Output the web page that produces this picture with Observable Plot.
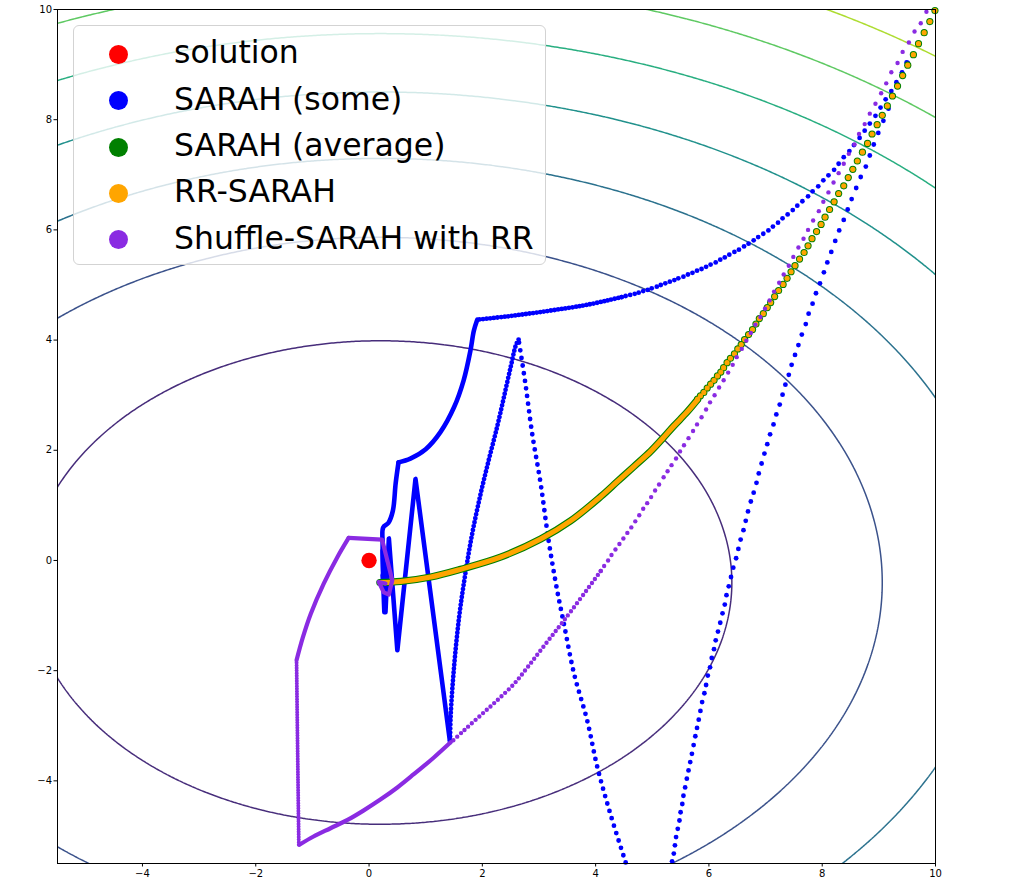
<!DOCTYPE html>
<html><head><meta charset="utf-8">
<script src="https://cdn.jsdelivr.net/npm/d3@7"></script>
<script src="https://cdn.jsdelivr.net/npm/@observablehq/plot@0.6"></script>
<style>
html,body{margin:0;padding:0;background:#fff;}
#wrap{position:relative;width:1024px;height:888px;}
#legend{position:absolute;left:73px;top:25px;width:473px;height:240px;border:1px solid #d3d3d3;border-radius:6px;background:rgba(255,255,255,0.8);font-family:"DejaVu Sans";font-size:31.5px;box-sizing:border-box;color:#000;}
.sw{position:absolute;left:35px;width:19px;height:19px;border-radius:50%;}
.lab{position:absolute;left:100px;white-space:nowrap;line-height:1;}
</style></head>
<body>
<div id="wrap"></div>
<script>
// ---------- data ----------
const xDomain = [-5.5, 10];
const yDomain = [-5.5, 10];
const xTicks = [-4, -2, 0, 2, 4, 6, 8, 10];
const yTicks = [-4, -2, 0, 2, 4, 6, 8, 10];

// objective bowl f(x,y) = wx*(x-cx)^2 + wy*(y-cy)^2 + c
const bowlCenter = [0.2, -0.4];
const bowlWeights = [1, 2];
const bowlOffset = 1.5;
const levels = [40, 80, 120, 160, 200, 240, 280];
const levelColorDomain = [0, 320];
const sampleExtent = [-10, 15];

const solution = [[0, 0]];

const legendNames = ["solution", "SARAH (some)", "SARAH (average)", "RR-SARAH", "Shuffle-SARAH with RR"];
const legendColors = ["red", "blue", "green", "orange", "blueviolet"];

// RR-SARAH / SARAH (average): separated iterates (upper part)
const rrDots = [[9.99,9.98],[9.90,9.78],[9.80,9.58],[9.70,9.38],[9.61,9.18],[9.51,8.99],[9.42,8.80],[9.33,8.61],[9.24,8.43],[9.15,8.25],[9.06,8.08],[8.97,7.91],[8.88,7.74],[8.80,7.57],[8.71,7.41],[8.62,7.25],[8.54,7.10],[8.46,6.95],[8.38,6.80],[8.29,6.66],[8.21,6.51],[8.13,6.37],[8.05,6.23],[7.98,6.10],[7.90,5.97],[7.82,5.84],[7.75,5.71],[7.68,5.59],[7.60,5.47],[7.52,5.35],[7.45,5.24],[7.38,5.12],[7.31,5.01],[7.23,4.90],[7.16,4.79],[7.09,4.68],[7.03,4.59],[6.96,4.48],[6.89,4.39],[6.83,4.29],[6.77,4.19],[6.70,4.10],[6.63,4.01],[6.57,3.92],[6.51,3.84],[6.45,3.75],[6.38,3.67],[6.32,3.59],[6.26,3.50],[6.21,3.42],[6.15,3.35],[6.09,3.27],[6.03,3.20],[5.97,3.13],[5.91,3.05],[5.85,2.99],[5.80,2.93]];
// dense (overlapping) iterates near the solution
const rrDense = [[5.80,2.92],[5.62,2.70],[5.38,2.44],[5.18,2.21],[4.97,1.98],[4.67,1.70],[4.38,1.43],[4.09,1.16],[3.56,0.72],[3.03,0.39],[2.32,0.06],[1.62,-0.16],[1.09,-0.30],[0.56,-0.38],[0.19,-0.40]];

// SARAH (some): run bending left to the kink
const sarahLeftDots = [[9.51,9.03],[9.41,8.86],[9.31,8.68],[9.22,8.52],[9.12,8.37],[9.03,8.22],[8.94,8.07],[8.84,7.93],[8.75,7.80],[8.66,7.67],[8.56,7.54],[8.48,7.43],[8.38,7.32],[8.29,7.20],[8.21,7.09],[8.11,6.99],[8.02,6.90],[7.93,6.79],[7.83,6.70],[7.75,6.61],[7.65,6.52],[7.56,6.44],[7.48,6.36],[7.39,6.28],[7.30,6.21],[7.22,6.13],[7.13,6.06],[7.05,5.99],[6.96,5.93],[6.87,5.87],[6.79,5.81],[6.70,5.75],[6.62,5.70],[6.53,5.64],[6.45,5.60],[6.36,5.55],[6.28,5.50],[6.20,5.46],[6.12,5.41],[6.03,5.37],[5.95,5.33],[5.87,5.29],[5.79,5.26],[5.71,5.22],[5.63,5.19],[5.55,5.15],[5.46,5.12],[5.39,5.09],[5.31,5.06],[5.23,5.03],[5.15,5.00],[5.08,4.97],[4.99,4.94],[4.92,4.91],[4.84,4.89],[4.76,4.86],[4.69,4.84],[4.61,4.82],[4.53,4.80],[4.46,4.78]];
const sarahLeftFine = [[4.46,4.78],[4.21,4.72],[3.85,4.64],[3.62,4.60],[3.03,4.51],[2.44,4.43],[1.91,4.37]];
const sarahLeftBend = [[1.91,4.37],[1.85,4.17],[1.79,3.81],[1.67,3.27],[1.50,2.78],[1.26,2.33],[1.00,2.02],[0.73,1.85],[0.52,1.78]];
const sarahLeftDrop = [[0.52,1.78],[0.47,1.40],[0.42,0.90],[0.34,0.68],[0.25,0.60],[0.24,0.30],[0.25,-0.36],[0.27,-0.94]];

// SARAH (some): run dropping steeply on the right
const sarahRightDots = [[9.49,9.04],[9.41,8.85],[9.33,8.64],[9.25,8.42],[9.17,8.20],[9.08,7.98],[8.99,7.76],[8.91,7.55],[8.84,7.35],[8.77,7.15],[8.68,6.96],[8.60,6.76],[8.52,6.56],[8.45,6.37],[8.38,6.18],[8.30,5.99],[8.23,5.80],[8.16,5.60],[8.09,5.41],[8.03,5.23],[7.96,5.03],[7.89,4.85],[7.83,4.66],[7.76,4.48],[7.71,4.29],[7.64,4.10],[7.58,3.91],[7.52,3.73],[7.46,3.55],[7.41,3.37],[7.35,3.19],[7.30,3.01],[7.25,2.83],[7.19,2.65],[7.14,2.47],[7.08,2.29],[7.03,2.11],[6.98,1.94],[6.93,1.76],[6.88,1.58],[6.84,1.41],[6.79,1.23],[6.74,1.07],[6.69,0.89],[6.65,0.72],[6.61,0.55],[6.56,0.38],[6.52,0.21],[6.48,0.04],[6.43,-0.13],[6.39,-0.30],[6.35,-0.47],[6.31,-0.63],[6.28,-0.80],[6.24,-0.96],[6.20,-1.13],[6.16,-1.29],[6.12,-1.45],[6.09,-1.61],[6.05,-1.77],[6.02,-1.94],[5.98,-2.09],[5.95,-2.26],[5.92,-2.41],[5.88,-2.57],[5.85,-2.73],[5.82,-2.89],[5.79,-3.04],[5.76,-3.19],[5.73,-3.35],[5.70,-3.51],[5.67,-3.66],[5.64,-3.81],[5.61,-3.96],[5.58,-4.12],[5.55,-4.27],[5.53,-4.42],[5.50,-4.57],[5.48,-4.72],[5.45,-4.87],[5.42,-5.02],[5.40,-5.17],[5.38,-5.32],[5.35,-5.46]];
const sarahRiseRight = [[4.53,-5.48],[4.26,-4.60],[4.03,-3.75],[3.85,-2.90],[3.62,-2.06],[3.44,-1.15],[3.32,-0.54],[3.17,0.36],[3.03,1.39],[2.88,2.30],[2.76,3.21],[2.64,4.01]];
const sarahFallLeft = [[2.64,4.01],[2.59,3.90],[2.50,3.51],[2.38,2.96],[2.26,2.42],[2.11,1.81],[1.97,1.21],[1.82,0.48],[1.70,-0.24],[1.59,-1.03],[1.50,-1.94],[1.44,-2.84],[1.43,-3.30]];
const sarahZigzag = [[1.43,-3.30],[0.82,1.48],[0.50,-1.63],[0.35,0.40],[0.29,-0.94],[0.24,0.18],[0.26,-0.54],[0.24,-0.27]];

// Shuffle-SARAH with RR
const shuffleDots = [[9.84,9.96],[9.74,9.75],[9.63,9.60],[9.53,9.40],[9.42,9.23],[9.33,9.03],[9.22,8.86],[9.13,8.66],[9.04,8.48],[8.94,8.29],[8.84,8.11],[8.75,7.92],[8.65,7.74],[8.57,7.55],[8.47,7.38],[8.38,7.20],[8.29,7.03],[8.20,6.86],[8.11,6.68],[8.02,6.51],[7.94,6.34],[7.84,6.17],[7.75,6.00],[7.67,5.84],[7.58,5.68],[7.49,5.51],[7.41,5.35],[7.32,5.19],[7.24,5.04],[7.15,4.88],[7.07,4.72],[6.99,4.57],[6.91,4.42],[6.82,4.28],[6.74,4.13],[6.66,3.99],[6.58,3.84],[6.49,3.69],[6.42,3.55],[6.34,3.41],[6.26,3.27],[6.18,3.14],[6.10,3.00],[6.02,2.87],[5.95,2.74],[5.87,2.60],[5.79,2.47],[5.72,2.35],[5.64,2.22],[5.56,2.09],[5.49,1.98],[5.42,1.85],[5.34,1.73],[5.27,1.62],[5.20,1.51],[5.12,1.38],[5.05,1.27],[4.98,1.15],[4.91,1.04],[4.84,0.94],[4.77,0.82],[4.70,0.71],[4.63,0.60],[4.56,0.50],[4.49,0.40],[4.42,0.30],[4.35,0.20],[4.28,0.10],[4.22,0.00],[4.15,-0.10],[4.09,-0.19]];
const shuffleFine = [[4.09,-0.19],[3.97,-0.36],[3.44,-1.09],[3.12,-1.51],[2.82,-1.91],[2.56,-2.24],[2.26,-2.54],[1.97,-2.81],[1.67,-3.09],[1.44,-3.31]];
const shuffleDense = [[1.44,-3.30],[1.14,-3.58],[0.79,-3.88],[0.50,-4.12],[0.20,-4.34],[-0.10,-4.54],[-0.38,-4.71],[-0.68,-4.86],[-0.98,-5.01],[-1.23,-5.16]];
const shuffleColumn = [[-1.24,-5.16],[-1.26,-3.50],[-1.28,-1.81]];
const shuffleArc = [[-1.28,-1.81],[-1.17,-1.40],[-1.03,-0.97],[-0.80,-0.42],[-0.56,0.06],[-0.36,0.41]];
const shuffleTail = [[-0.36,0.41],[0.23,0.38],[0.41,-0.36],[0.35,-0.62],[0.26,-0.58],[0.17,-0.39],[0.29,-0.42]];

// ---------- drawing ----------
const X = d => d[0], Y = d => d[1];
const bowl = (x, y) => bowlWeights[0] * (x - bowlCenter[0]) ** 2 + bowlWeights[1] * (y - bowlCenter[1]) ** 2 + bowlOffset;
const levelColor = v => d3.interpolateViridis((v - levelColorDomain[0]) / (levelColorDomain[1] - levelColorDomain[0]));

const dots = (data, color, r) => Plot.dot(data, {x: X, y: Y, r, fill: color, stroke: "none"});
const solid = (data, color, w, curve = "linear") => Plot.line(data, {x: X, y: Y, stroke: color, strokeWidth: w, strokeLinecap: "round", strokeLinejoin: "round", curve});
const dotted = (data, color, w, gap, curve = "catmull-rom") => Plot.line(data, {x: X, y: Y, stroke: color, strokeWidth: w, strokeLinecap: "round", strokeDasharray: `0 ${gap}`, curve});

const contourMarks = levels.map(v => Plot.contour({
  value: bowl, x1: sampleExtent[0], x2: sampleExtent[1], y1: sampleExtent[0], y2: sampleExtent[1],
  thresholds: [v], fill: "none", stroke: levelColor(v), strokeWidth: 1.5, clip: true
}));

const chart = Plot.plot({
  width: 1024, height: 888,
  marginLeft: 57, marginRight: 89, marginTop: 9, marginBottom: 25,
  style: {fontFamily: "DejaVu Sans", fontSize: "10px", background: "#fff", color: "#000"},
  x: {domain: xDomain, label: null},
  y: {domain: yDomain, label: null},
  marks: [
    ...contourMarks,
    dots(solution, legendColors[0], 7.7),
    // SARAH (some)
    dots(sarahLeftDots, "blue", 2.4),
    dotted(sarahLeftFine, "blue", 4.8, 3.6),
    solid(sarahLeftBend, "blue", 4.6, "catmull-rom"),
    solid(sarahLeftDrop, "blue", 4.6, "catmull-rom"),
    dots(sarahRightDots, "blue", 2.4),
    dotted(sarahRiseRight, "blue", 4.8, 7.7),
    dotted(sarahFallLeft, "blue", 4.8, 4),
    solid(sarahZigzag, "blue", 4.6),
    // SARAH (average)
    dots(rrDots, "green", 3.6),
    solid(rrDense, "green", 7.2, "catmull-rom"),
    // RR-SARAH
    dots(rrDots, "orange", 2.6),
    solid(rrDense, "orange", 5, "catmull-rom"),
    // Shuffle-SARAH with RR
    dots(shuffleDots, "blueviolet", 2.2),
    dotted(shuffleFine, "blueviolet", 4.4, 5),
    solid(shuffleDense, "blueviolet", 4.2, "catmull-rom"),
    dotted(shuffleColumn, "blueviolet", 4, 2.6, "linear"),
    solid(shuffleArc, "blueviolet", 4.2, "catmull-rom"),
    solid(shuffleTail, "blueviolet", 4.2),
    Plot.frame({stroke: "black", strokeWidth: 1}),
    Plot.axisX({ticks: xTicks, tickSize: 3.5, tickPadding: 3, label: null, stroke: "black"}),
    Plot.axisY({ticks: yTicks, tickSize: 3.5, tickPadding: 2, label: null, stroke: "black"})
  ]
});
const wrap = document.getElementById("wrap");
wrap.appendChild(chart);

// legend (drawn over the top-left corner of the axes)
const legend = document.createElement("div");
legend.id = "legend";
const rowCenters = [28, 74.5, 121, 167, 213.5];
legendNames.forEach((name, i) => {
  const sw = document.createElement("div");
  sw.className = "sw";
  sw.style.top = (rowCenters[i] - 9.5) + "px";
  sw.style.background = legendColors[i];
  legend.appendChild(sw);
  const lab = document.createElement("div");
  lab.className = "lab";
  lab.style.top = (rowCenters[i] - 16.9) + "px";
  lab.textContent = name;
  legend.appendChild(lab);
});
wrap.appendChild(legend);
</script>
</body></html>
